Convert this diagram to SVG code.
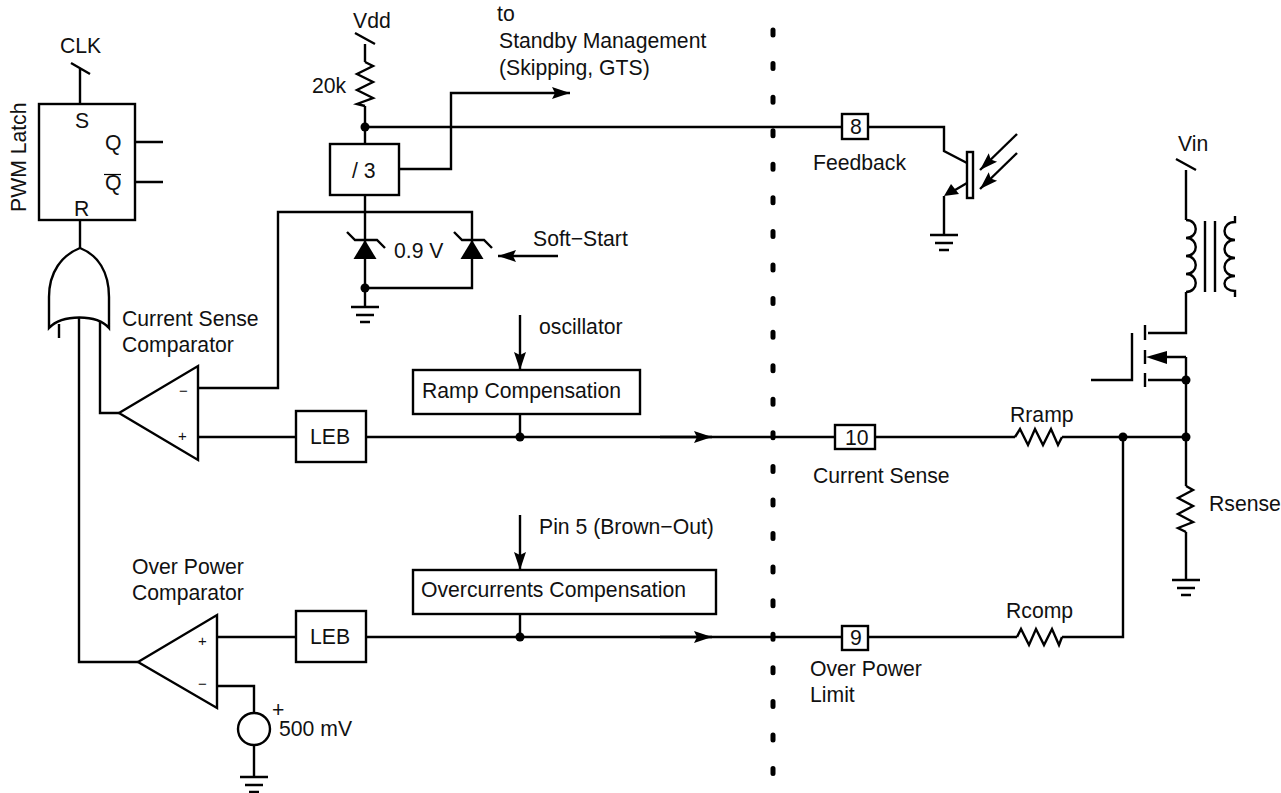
<svg xmlns="http://www.w3.org/2000/svg" width="1281" height="793" viewBox="0 0 1281 793">
<style>
text{font-family:"Liberation Sans",Arial,sans-serif;font-size:21.200px;fill:#111}
.l{fill:none;stroke:#000;stroke-width:2.400;stroke-linejoin:miter}
.b{fill:#fff;stroke:#000;stroke-width:2.400}
.f{fill:#000;stroke:none}
text.s{font-size:15px}
</style>
<defs>
<g id="gnd"><path class="l" d="M-14,0H14M-9,8H9M-5,15H5"/></g>
<g id="zener"><path class="f" d="M0,0L11.500,19H-11.500Z"/><path class="l" d="M-18,-8L-10,0H12L20,8"/></g>
<marker id="ah" markerUnits="userSpaceOnUse" markerWidth="20" markerHeight="14" refX="18" refY="7" orient="auto"><path d="M0,1L18,7L0,13L3,7Z" fill="#000"/></marker>
</defs>
<rect width="1281" height="793" fill="#fff"/>
<g id="connectors">
<path class="l" d="M80,104V68M71,63L90,74"/>
<path class="l" d="M135,142H163M135,182H163"/>
<path class="l" d="M80,220V248"/>
<path class="l" d="M59,324V338M79,318V662H138M100,322V413H119"/>
<path class="l" d="M198,388H278V212H472V288H365"/>
<path class="l" d="M198,437H296M366,437H835"/>
<path class="l" d="M365,44V62M355,33L375,44M365,106V144M365,127H842M868,127H944V151L967,163"/>
<path class="l" d="M399,169H451V93H570" marker-end="url(#ah)"/>
<path class="l" d="M365,195V288V307"/>
<path class="l" d="M558,256H498" marker-end="url(#ah)"/>
<path class="l" d="M520,315V370" marker-end="url(#ah)"/>
<path class="l" d="M520,515V570" marker-end="url(#ah)"/>
<path class="l" d="M520,414V437M520,614V637"/>
<path class="l" d="M660,437H712" marker-end="url(#ah)"/>
<path class="l" d="M660,637H712" marker-end="url(#ah)"/>
<path class="l" d="M875,437H1015M1062,437H1186"/>
<path class="l" d="M217,637H296M366,637H842M868,637H1017M1062,637H1123V437"/>
<path class="l" d="M217,686H254V713M254,745V777"/>
<path class="l" d="M1186,170V220M1176,159L1196,170M1186,292V333H1148M1186,357V486M1186,532V580"/>
<path class="l" d="M1166,357H1186M1148,380H1186"/>
<path class="l" d="M1091,380H1132V333"/>
<path class="l" d="M967,183L950,193M944,196V235"/>
<path class="f" d="M944,196L951,184L959,194Z"/>
<path class="l" d="M1017,134L980,170" marker-end="url(#ah)"/>
<path class="l" d="M1017,153L980,189" marker-end="url(#ah)"/>
</g>
<g id="divider"><path d="M773,30V775" fill="none" stroke="#000" stroke-width="5" stroke-linecap="round" stroke-dasharray="5 28.570"/></g>
<g id="latch"><rect class="b" x="39" y="104" width="96" height="116"/>
<text x="75" y="128">S</text><text x="105" y="150">Q</text><text x="105" y="190">Q</text><path d="M104,174.500H121" stroke="#000" stroke-width="1.200"/><text x="74" y="216">R</text>
<text x="60" y="53">CLK</text>
<text transform="translate(26,212) rotate(-90)">PWM Latch</text></g>
<g id="or-gate"><path class="l" d="M49,328V297C49,272 62,255 80,248C98,255 109,272 109,297V328C97,314 62,314 49,328Z"/></g>
<g id="comp-current"><path class="b" d="M119,413L198,366V460Z"/><text class="s" x="179" y="396">−</text><text class="s" x="178" y="441">+</text>
<text x="122" y="326">Current Sense</text><text x="122" y="352">Comparator</text></g>
<g id="comp-power"><path class="b" d="M138,662L217,615V708Z"/><text class="s" x="198" y="646">+</text><text class="s" x="198" y="689">−</text>
<text x="132" y="574">Over Power</text><text x="132" y="600">Comparator</text></g>
<g id="source"><circle class="b" cx="254" cy="729" r="16"/><text x="272" y="717">+</text><text x="279" y="736">500 mV</text><use href="#gnd" x="254" y="777"/></g>
<g id="vdd"><text x="353" y="28">Vdd</text><text x="312" y="93">20k</text><path class="l" d="M365,62L373,66L357,74L373,82L357,90L373,98L357,104L365,106"/><circle class="f" cx="365" cy="127" r="4.500"/></g>
<g id="standby"><text x="497" y="21">to</text><text x="499" y="48">Standby Management</text><text x="499" y="75">(Skipping, GTS)</text></g>
<g id="div3"><rect class="b" x="330" y="144" width="69" height="51"/><text x="352" y="178">/ 3</text></g>
<g id="zeners"><use href="#zener" x="365" y="240"/><use href="#zener" x="472" y="240"/><text x="394" y="258">0.9 V</text><text x="533" y="246">Soft−Start</text><circle class="f" cx="365" cy="288" r="4.500"/><use href="#gnd" x="365" y="307"/></g>
<g id="ramp"><rect class="b" x="413" y="370" width="227" height="44"/><text x="422" y="398">Ramp Compensation</text><text x="539" y="334">oscillator</text><circle class="f" cx="520" cy="437" r="4.500"/></g>
<g id="overcurrents"><rect class="b" x="413" y="570" width="303" height="44"/><text x="421" y="597">Overcurrents Compensation</text><text x="539" y="534">Pin 5 (Brown−Out)</text><circle class="f" cx="520" cy="637" r="4.500"/></g>
<g id="leb1"><rect class="b" x="296" y="411" width="70" height="51"/><text x="310" y="444">LEB</text></g>
<g id="leb2"><rect class="b" x="296" y="611" width="70" height="51"/><text x="310" y="644">LEB</text></g>
<g id="pin8"><rect class="b" x="842" y="114" width="26" height="25"/><text x="850" y="134">8</text><text x="813" y="170">Feedback</text></g>
<g id="pin10"><rect class="b" x="835" y="425" width="40" height="24"/><text x="845" y="445">10</text><text x="813" y="483">Current Sense</text></g>
<g id="pin9"><rect class="b" x="842" y="626" width="26" height="24"/><text x="850" y="645">9</text><text x="810" y="676">Over Power</text><text x="810" y="702">Limit</text></g>
<g id="opto"><rect class="b" x="967" y="152" width="6" height="46"/><use href="#gnd" x="944" y="235"/></g>
<g id="transformer"><text x="1178" y="151">Vin</text>
<path class="l" d="M1186,220C1199,220 1199,238 1186,238C1199,238 1199,256 1186,256C1199,256 1199,274 1186,274C1199,274 1199,292 1186,292"/>
<path class="l" d="M1205,221V292M1215,221V292"/>
<path class="l" d="M1235,216V222C1221,222 1221,240 1235,240C1221,240 1221,258 1235,258C1221,258 1221,276 1235,276C1221,276 1221,291 1235,291V297"/></g>
<g id="mosfet"><path class="l" d="M1145,325V340M1145,350V364M1145,373V387"/><path class="f" d="M1146,357L1167,351V364Z"/></g>
<g id="rramp"><text x="1010" y="422">Rramp</text><path class="l" d="M1015,437L1020,429L1028,445L1035,429L1043,445L1051,429L1058,445L1062,437"/></g>
<g id="rcomp"><text x="1006" y="618">Rcomp</text><path class="l" d="M1017,637L1021,629L1029,645L1036,629L1044,645L1052,629L1059,645L1062,637"/></g>
<g id="junctions"><circle class="f" cx="1123" cy="437" r="4.500"/><circle class="f" cx="1186" cy="437" r="4.500"/><circle class="f" cx="1186" cy="380" r="4.500"/></g>
<g id="rsense"><path class="l" d="M1186,486L1193,490L1178,498L1193,506L1178,514L1193,522L1178,528L1186,532"/><text x="1209" y="511">Rsense</text><use href="#gnd" x="1186" y="580"/></g>
</svg>
